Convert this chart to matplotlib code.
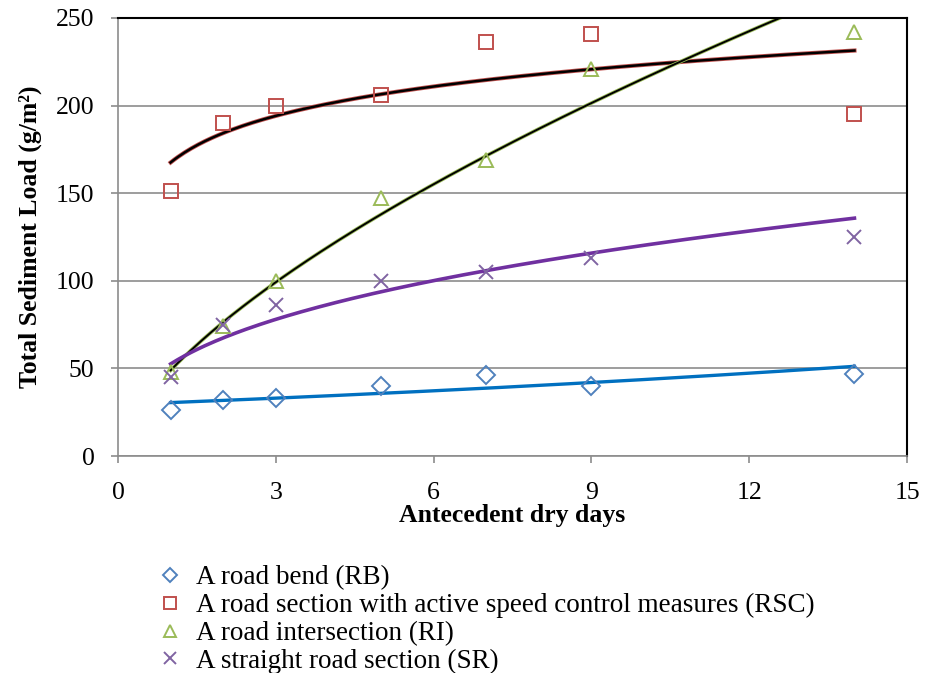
import matplotlib
matplotlib.use('Agg')
import matplotlib.pyplot as plt
import numpy as np

plt.rcParams['font.family'] = ['Liberation Serif', 'DejaVu Serif']

dias = [1, 2, 3, 5, 7, 9, 14]
rb = [26, 32, 33, 40, 46, 40, 47]
rsc = [151, 190, 200, 206, 236, 241, 195]
ri = [48, 74, 100, 147, 169, 221, 242]
sr = [45, 75, 86, 100, 105, 113, 125]

etiquetas = ['A road bend (RB)',
             'A road section with active speed control measures (RSC)',
             'A road intersection (RI)',
             'A straight road section (SR)']

x = np.array(dias, dtype=float)
xx = np.linspace(1, 14, 200)

# lineas de tendencia (ajustes tipo Excel)
b, a = np.polyfit(x, np.log(rb), 1)
y_rb = np.exp(a) * np.exp(b * xx)           # exponencial
b, a = np.polyfit(np.log(x), rsc, 1)
y_rsc = a + b * np.log(xx)                  # logaritmica
b, a = np.polyfit(np.log(x), np.log(ri), 1)
y_ri = np.exp(a) * xx**b                    # potencial
b, a = np.polyfit(np.log(x), np.log(sr), 1)
y_sr = np.exp(a) * xx**b                    # potencial

fig = plt.figure(figsize=(9.25, 6.73), dpi=100)
ax = fig.add_axes([0.1276, 0.3224, 0.853, 0.651])

ax.plot(xx, y_rb, color='#0070C0', lw=2.4, zorder=2)
ax.plot(xx, y_rsc, color='#C0504D', lw=3.0, zorder=2)
ax.plot(xx, y_rsc, color='black', lw=1.8, zorder=2)
ax.plot(xx, y_ri, color='#9BBB59', lw=2.6, zorder=2)
ax.plot(xx, y_ri, color='black', lw=1.4, zorder=2)
ax.plot(xx, y_sr, color='#7030A0', lw=2.6, zorder=2)

m1, = ax.plot(dias, rb, 'D', ms=9, mfc='none', mec='#4F81BD', mew=1.4, zorder=3)
m2, = ax.plot(dias, rsc, 's', ms=10.5, mfc='none', mec='#C0504D', mew=1.4, zorder=3)
m3, = ax.plot(dias, ri, '^', ms=10.5, mfc='none', mec='#9BBB59', mew=1.4, zorder=3)
m4, = ax.plot(dias, sr, 'x', ms=10.5, mfc='none', mec='#8064A2', mew=1.4, zorder=3)

ax.set_xlim(0, 15)
ax.set_ylim(0, 250)
ax.set_xticks([0, 3, 6, 9, 12, 15])
ax.set_yticks([0, 50, 100, 150, 200, 250])
ax.grid(axis='y', color='#8C8C8C', lw=1.2)
ax.set_axisbelow(True)
for s in ['left', 'bottom']:
    ax.spines[s].set_color('#8C8C8C')
    ax.spines[s].set_linewidth(1.2)
for s in ['top', 'right']:
    ax.spines[s].set_color('black')
    ax.spines[s].set_linewidth(1.5)
ax.tick_params(axis='both', direction='out', length=5, width=1.2, color='#8C8C8C',
               labelsize=18.5)
ax.tick_params(axis='x', pad=14)
ax.tick_params(axis='y', pad=12)

ax.set_xlabel('Antecedent dry days', fontsize=18.5, fontweight='bold', labelpad=0)
ax.set_ylabel('Total Sediment Load (g/m²)', fontsize=18.5, fontweight='bold', labelpad=10)

fig.legend([m1, m2, m3, m4], etiquetas, loc='upper left', bbox_to_anchor=(0.151, 0.18),
           frameon=False, fontsize=19.5, handletextpad=0.33, labelspacing=0.1,
           borderpad=0, handlelength=1.25, markerscale=0.8)

fig.savefig('out.png', dpi=100)
